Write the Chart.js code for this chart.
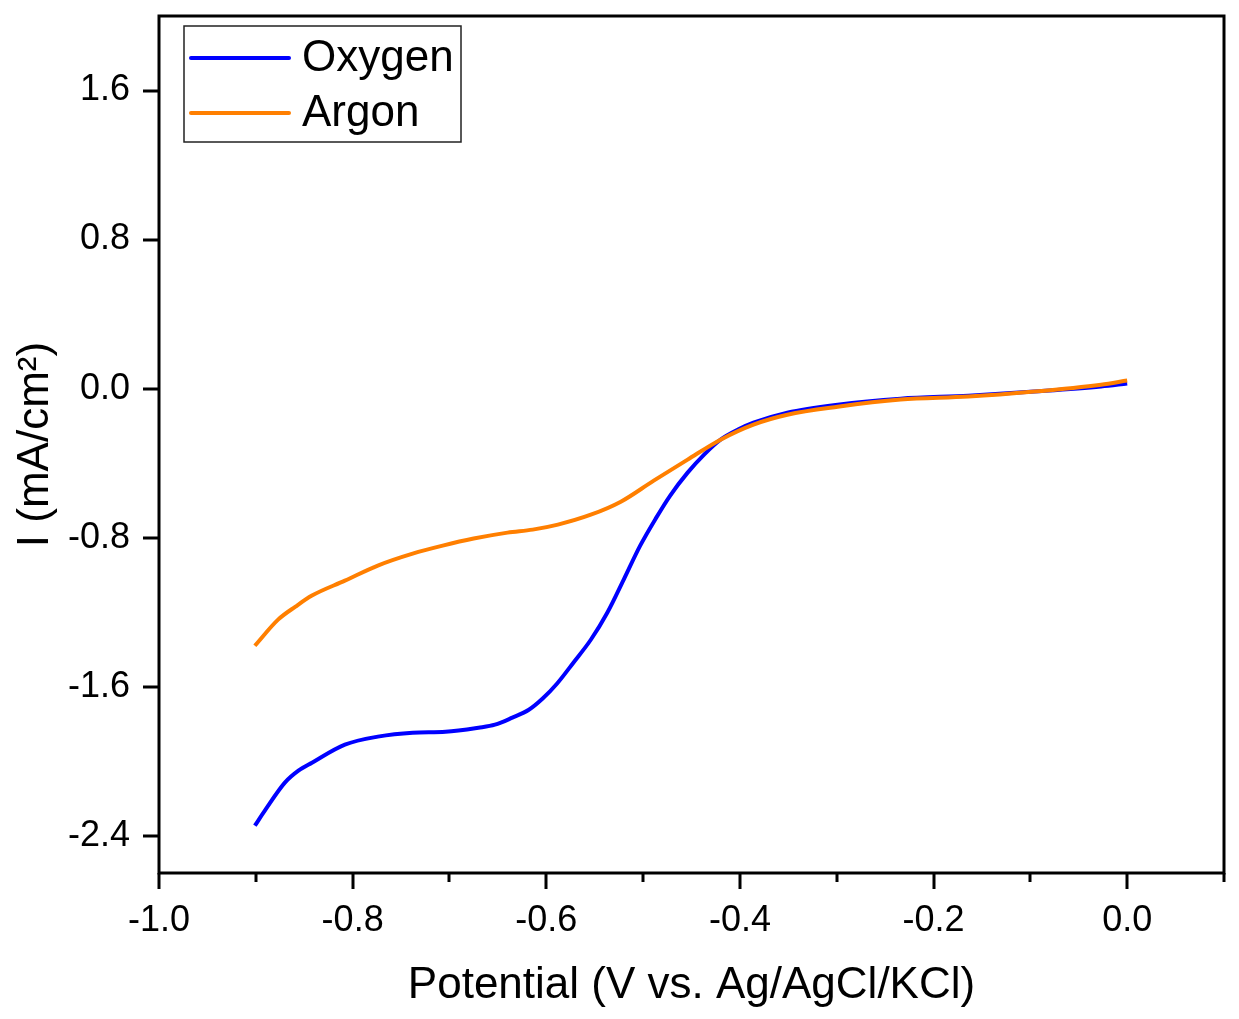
<!DOCTYPE html>
<html>
<head>
<meta charset="utf-8">
<script src="https://cdn.jsdelivr.net/npm/chart.js@4/dist/chart.umd.min.js"></script>
<style>
html,body{margin:0;padding:0;background:#fff;}
#wrap{width:1239px;height:1019px;}
</style>
</head>
<body>
<div id="wrap"><canvas id="c" width="1239" height="1019"></canvas></div>
<script>
// ---- Data ----
const seriesLabels = ['Oxygen', 'Argon'];
const potentialO2 = [-0.901, -0.890, -0.870, -0.856, -0.842, -0.808, -0.774, -0.738, -0.704, -0.670, -0.653, -0.635, -0.618, -0.604, -0.589, -0.572, -0.554, -0.537, -0.520, -0.503, -0.487, -0.472, -0.454, -0.437, -0.420, -0.402, -0.386, -0.351, -0.299, -0.234, -0.164, -0.096, -0.027, 0.000];
const currentO2   = [-2.346, -2.260, -2.115, -2.051, -2.008, -1.911, -1.868, -1.847, -1.842, -1.820, -1.804, -1.766, -1.724, -1.665, -1.584, -1.471, -1.348, -1.203, -1.025, -0.843, -0.698, -0.574, -0.451, -0.354, -0.274, -0.220, -0.183, -0.129, -0.086, -0.054, -0.038, -0.016, 0.011, 0.027];
const potentialAr = [-0.901, -0.877, -0.859, -0.842, -0.808, -0.774, -0.738, -0.707, -0.675, -0.640, -0.614, -0.588, -0.554, -0.523, -0.489, -0.454, -0.420, -0.386, -0.351, -0.299, -0.234, -0.164, -0.096, -0.027, 0.000];
const currentAr   = [-1.380, -1.240, -1.170, -1.111, -1.031, -0.950, -0.886, -0.843, -0.805, -0.773, -0.757, -0.730, -0.677, -0.607, -0.494, -0.381, -0.274, -0.193, -0.140, -0.097, -0.059, -0.043, -0.016, 0.021, 0.043];
const xMajorTicks = [-1.0, -0.8, -0.6, -0.4, -0.2, 0.0];
const xMinorTicks = [-0.9, -0.7, -0.5, -0.3, -0.1, 0.1];
const yMajorTicks = [-2.4, -1.6, -0.8, 0.0, 0.8, 1.6];
const xRange = [-1.0, 0.1];
const yRange = [-2.6, 2.0];

const toPoints = (xs, ys) => xs.map((x, i) => ({x: x, y: ys[i]}));
const FONT = "'Liberation Sans', Arial, sans-serif";

const framePlugin = {
  id: 'frame',
  afterDraw(chart) {
    const ctx = chart.ctx;
    const a = chart.chartArea;
    const xs = chart.scales.x, ys = chart.scales.y;
    ctx.save();
    ctx.strokeStyle = '#000';
    ctx.lineWidth = 3;
    ctx.lineCap = 'butt';
    ctx.beginPath();
    xMajorTicks.forEach(v => { const p = Math.round(xs.getPixelForValue(v)); ctx.moveTo(p, a.bottom); ctx.lineTo(p, a.bottom + 16); });
    xMinorTicks.forEach(v => { const p = Math.round(xs.getPixelForValue(v)); ctx.moveTo(p, a.bottom); ctx.lineTo(p, a.bottom + 9); });
    yMajorTicks.forEach(v => { const p = Math.round(ys.getPixelForValue(v)); ctx.moveTo(a.left, p); ctx.lineTo(a.left - 16, p); });
    ctx.stroke();
    ctx.strokeRect(a.left, a.top, a.right - a.left, a.bottom - a.top);
    // legend
    const lx = 184, ly = 26, lw = 277, lh = 116;
    ctx.fillStyle = '#fff';
    ctx.fillRect(lx, ly, lw, lh);
    ctx.lineWidth = 1.5;
    ctx.strokeStyle = '#222';
    ctx.strokeRect(lx, ly, lw, lh);
    ctx.font = '44px ' + FONT;
    ctx.textBaseline = 'middle';
    ctx.textAlign = 'left';
    chart.data.datasets.forEach((ds, i) => {
      const y = 58 + i * 55;
      ctx.beginPath();
      ctx.lineWidth = 4;
      ctx.lineCap = 'round';
      ctx.strokeStyle = ds.borderColor;
      ctx.moveTo(191, y); ctx.lineTo(289, y);
      ctx.stroke();
      ctx.fillStyle = '#000';
      ctx.fillText(ds.label, 302, y + 1);
    });
    ctx.restore();
  }
};

new Chart(document.getElementById('c'), {
  type: 'line',
  data: {
    datasets: [
      { label: seriesLabels[0], data: toPoints(potentialO2, currentO2), borderColor: '#0000FF', borderWidth: 4, pointRadius: 0, cubicInterpolationMode: 'monotone', fill: false, order: 2 },
      { label: seriesLabels[1], data: toPoints(potentialAr, currentAr), borderColor: '#FF7F00', borderWidth: 4, pointRadius: 0, cubicInterpolationMode: 'monotone', fill: false, order: 1 }
    ]
  },
  options: {
    responsive: false,
    animation: false,
    devicePixelRatio: 1,
    layout: { padding: { left: 0, top: 16, right: 15, bottom: 0 } },
    plugins: { legend: { display: false }, tooltip: { enabled: false } },
    scales: {
      x: {
        type: 'linear', min: xRange[0], max: xRange[1],
        afterBuildTicks: s => { s.ticks = xMajorTicks.map(v => ({value: v})); },
        afterFit: s => { s.height = 146; s.paddingLeft = 0; s.paddingRight = 0; },
        grid: { display: false, drawTicks: false, tickLength: 0 },
        border: { display: false },
        ticks: { color: '#000', font: { family: FONT, size: 36 }, padding: 26, maxRotation: 0, autoSkip: false,
                 callback: v => Number(v).toFixed(1) },
        title: { display: true, text: 'Potential (V vs. Ag/AgCl/KCl)', color: '#000', font: { family: FONT, size: 44 }, padding: { top: 0, bottom: 7 } }
      },
      y: {
        type: 'linear', min: yRange[0], max: yRange[1],
        afterBuildTicks: s => { s.ticks = yMajorTicks.map(v => ({value: v})); },
        afterFit: s => { s.width = 159; s.paddingTop = 0; s.paddingBottom = 0; },
        grid: { display: false, drawTicks: false, tickLength: 0 },
        border: { display: false },
        ticks: { color: '#000', font: { family: FONT, size: 36 }, padding: 29, autoSkip: false,
                 callback: v => Number(v).toFixed(1) },
        title: { display: true, text: 'I (mA/cm\u00B2)', color: '#000', font: { family: FONT, size: 44 }, padding: { top: 9, bottom: 0 } }
      }
    }
  },
  plugins: [framePlugin]
});
</script>
</body>
</html>
